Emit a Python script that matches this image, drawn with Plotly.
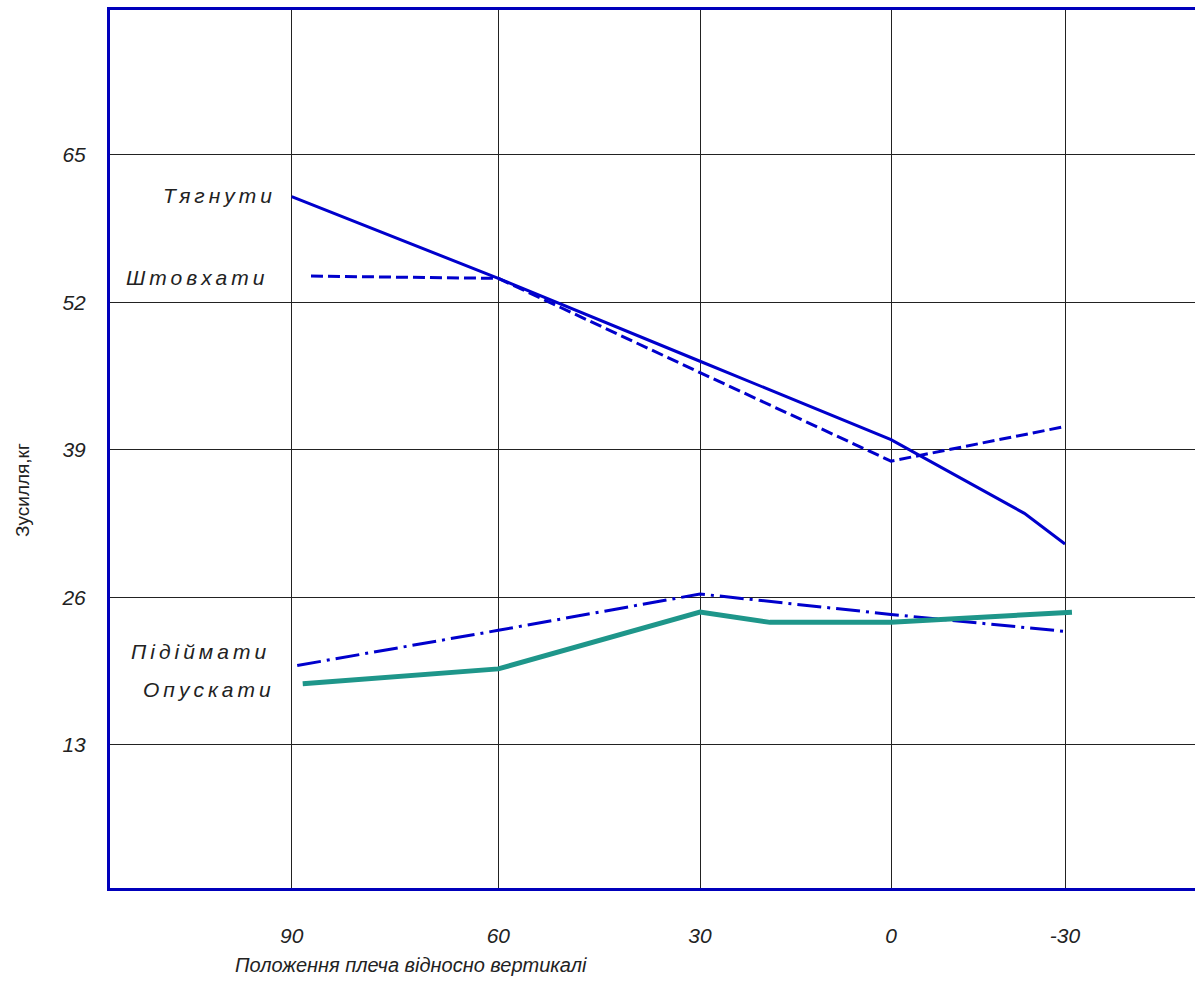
import numpy as np
import plotly.graph_objects as go

# ---------------- data ----------------
# x axis: shoulder angle relative to vertical (degrees)
tick_degrees = [90, 60, 30, 0, -30]
tick_labels = ["90", "60", "30", "0", "-30"]
# non-uniform horizontal scale of the original drawing (relative spacing of the angle ticks)
tick_scale = [0.0, 206.6, 408.3, 599.3, 773.3]

y_ticks = [13, 26, 39, 52, 65]

pull_x = [90, 60, 30, 0, -23, -30]          # Тягнути
pull_y = [61.3, 54.1, 46.8, 39.9, 33.4, 30.7]

push_x = [87.2, 60, 30, 0, -30]             # Штовхати
push_y = [54.3, 54.1, 45.8, 38.0, 41.05]

lift_x = [89.2, 60, 30, 0, -30]             # Підіймати
lift_y = [20.0, 23.1, 26.3, 24.5, 23.0]

lower_x = [88.4, 60, 30, 19, 0, -31.2]      # Опускати
lower_y = [18.4, 19.7, 24.7, 23.8, 23.8, 24.7]

series_names = ["Тягнути", "Штовхати", "Підіймати", "Опускати"]
x_title = "Положення плеча відносно вертикалі"
y_title = "Зусилля,кг"


def to_pos(deg):
    """Piecewise-linear angle scale (with linear extrapolation at the ends)."""
    d = -np.asarray(deg, dtype=float)
    xp = -np.asarray(tick_degrees, dtype=float)
    fp = np.asarray(tick_scale)
    out = np.interp(d, xp, fp)
    lo = d < xp[0]
    hi = d > xp[-1]
    out[lo] = fp[0] + (d[lo] - xp[0]) * (fp[1] - fp[0]) / (xp[1] - xp[0])
    out[hi] = fp[-1] + (d[hi] - xp[-1]) * (fp[-1] - fp[-2]) / (xp[-1] - xp[-2])
    return out


BLUE = "#0000CC"
TEAL = "#1E968A"
TEXT = "#222222"
FONT = "Liberation Sans, Arial, sans-serif"

fig = go.Figure()
fig.add_trace(go.Scatter(x=to_pos(pull_x), y=pull_y, mode="lines", name=series_names[0],
                         line=dict(color=BLUE, width=3)))
fig.add_trace(go.Scatter(x=to_pos(push_x), y=push_y, mode="lines", name=series_names[1],
                         line=dict(color=BLUE, width=3, dash="12px,5px")))
fig.add_trace(go.Scatter(x=to_pos(lift_x), y=lift_y, mode="lines", name=series_names[2],
                         line=dict(color=BLUE, width=3, dash="24px,6px,3px,6px")))
fig.add_trace(go.Scatter(x=to_pos(lower_x), y=lower_y, mode="lines", name=series_names[3],
                         line=dict(color=TEAL, width=5)))

W, H = 1195, 1002
ML, MT, MR, MB = 110, 10, 0, 114
pw, ph = W - ML - MR, H - MT - MB

ann_font = dict(family=FONT, size=21, color=TEXT, style="italic")
label_pos = [(-72.2, 61.4), (-94.7, 54.2), (-91.7, 21.2), (-83.2, 17.85)]
annotations = []
for name, (ax, ay) in zip(series_names, label_pos):
    annotations.append(dict(x=ax, y=ay, xref="x", yref="y", text=name, showarrow=False,
                            xanchor="center", yanchor="middle", font=ann_font))
annotations.append(dict(x=(411 - ML) / pw, y=-(965 - (MT + ph)) / ph, xref="paper", yref="paper",
                        text=x_title, showarrow=False, xanchor="center", yanchor="middle",
                        font=dict(family=FONT, size=20, color=TEXT, style="italic")))
annotations.append(dict(x=(22 - ML) / pw, y=((MT + ph) - 490) / ph, xref="paper", yref="paper",
                        text=y_title, showarrow=False, textangle=-90, xanchor="center",
                        yanchor="middle", font=dict(family=FONT, size=19, color=TEXT)))

fig.update_layout(
    width=W, height=H,
    margin=dict(l=ML, r=MR, t=MT, b=MB),
    paper_bgcolor="white", plot_bgcolor="white",
    showlegend=False,
    annotations=annotations,
    xaxis=dict(range=[-181.7, W - ML - 181.7],
               tickvals=tick_scale, ticktext=tick_labels,
               showgrid=True, gridcolor="#222222", gridwidth=1.3,
               zeroline=False, showline=True, linecolor="#0000BB", linewidth=3, mirror=True,
               ticks="", ticklabelstandoff=27,
               tickfont=dict(family=FONT, size=21, color=TEXT, style="italic")),
    yaxis=dict(range=[0.40, 77.74], tickvals=y_ticks,
               showgrid=True, gridcolor="#222222", gridwidth=1.3,
               zeroline=False, showline=True, linecolor="#0000BB", linewidth=3, mirror=False,
               ticks="", ticklabelstandoff=17,
               tickfont=dict(family=FONT, size=21, color=TEXT, style="italic")),
)

css = ("g.annotation[data-index='0'] text, g.annotation[data-index='1'] text, "
       "g.annotation[data-index='2'] text, g.annotation[data-index='3'] text "
       "{letter-spacing: 4px;}")
post = ("document.body.style.margin='0px';"
        "document.documentElement.style.overflow='hidden';"
        "var st=document.createElement('style');st.innerHTML=\"" + css + "\";"
        "document.head.appendChild(st);")

fig.write_html("out.html", config={"displayModeBar": False}, post_script=post)
